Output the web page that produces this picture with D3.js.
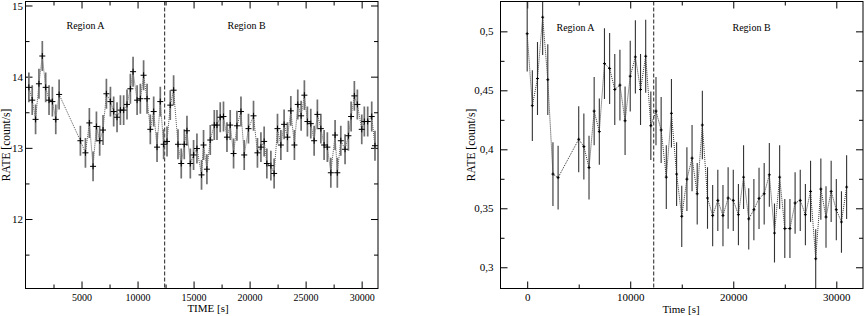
<!DOCTYPE html>
<html><head><meta charset="utf-8">
<script src="https://cdn.jsdelivr.net/npm/d3@7"></script>
<style>
html,body{margin:0;padding:0;background:#fff;}
svg{display:block;}
text{font-family:"Liberation Serif","DejaVu Serif",serif;fill:#000;}
</style></head>
<body>
<svg id="chart" width="864" height="316"></svg>
<script>
// ---------- DATA ----------
// Left panel: light curve (300 s bins)
const leftTime = [
  300,600,900,1200,1500,1800,2100,2400,2700,3000,
  4900,5350,5700,6030,6330,6620,6920,7220,7580,7870,
  8170,8470,8760,9060,9360,9600,9960,10250,10540,10850,
  11140,11440,11740,12030,12330,12630,12920,13220,13610,13900,
  14170,14410,14710,15000,15300,15710,15890,16190,16490,16850,
  17090,17380,17670,17980,18270,18570,18870,19230,19520,19900,
  20350,20700,21010,21300,21540,21900,22190,22490,22790,23080,
  23380,23680,24000,24300,24600,24890,25160,25460,25760,26050,
  26360,26650,26940,27250,27630,27830,28140,28520,28820,29060,
  29350,29620,30010,30240,30540,30900,31190
];
const leftRate = [
  13.85,13.67,13.40,13.90,14.29,13.85,13.67,13.65,13.40,13.75,
  13.10,12.93,13.35,12.74,13.30,13.10,13.25,13.76,13.65,13.51,
  13.43,13.53,13.53,13.61,13.83,14.07,13.67,13.69,14.02,13.69,
  13.26,13.51,13.01,13.65,13.05,13.09,13.60,13.81,13.05,12.78,
  13.05,13.24,12.78,12.90,12.99,12.62,13.04,12.70,13.11,13.32,
  13.32,13.43,13.44,13.15,13.32,12.92,13.31,13.51,12.90,13.27,
  13.45,12.93,13.01,13.09,12.78,12.75,12.64,13.27,13.04,13.33,
  13.15,13.52,13.04,13.61,13.45,13.74,13.37,13.34,13.10,13.47,
  13.27,13.04,13.01,12.65,13.18,12.65,13.10,12.98,13.17,13.44,
  13.73,13.61,13.26,13.37,13.37,13.44,13.03
];
const leftErrHalf = 0.21;
const leftDivider = 12420;
const leftXTicks = [5000,10000,15000,20000,25000,30000];
const leftXMinor = [2500,7500,12500,17500,22500,27500];
const leftYTicks = [12,13,14,15];
const leftYMinor = [11.5,12.5,13.5,14.5];

// Right panel: light curve (500 s bins)
const rightTime = [
  0,500,1000,1500,2000,2500,3000,
  5000,5500,6000,6500,7000,7500,8000,8500,9000,9500,
  10000,10500,11000,11500,12000,12500,13000,13500,14000,14500,
  15000,15500,16000,16500,17000,17500,18000,18500,19000,19500,
  20000,20500,21000,21500,22000,22500,23000,23500,24000,24500,
  25000,25500,26000,26500,27000,27500,28000,28500,29000,29500,
  30000,30500,31000
];
const rightRate = [
  0.498,0.437,0.460,0.512,0.459,0.379,0.376,
  0.4085,0.4023,0.3845,0.4324,0.415,0.4727,0.4685,0.4507,0.4544,0.4242,
  0.462,0.4783,0.4507,0.4789,0.420,0.4324,0.4164,0.3764,0.4305,0.379,
  0.3432,0.3747,0.3925,0.3623,0.4206,0.3587,0.3438,0.3567,0.3438,0.3587,
  0.3567,0.3446,0.3764,0.341,0.3488,0.3584,0.3623,0.3784,0.329,0.3764,
  0.3328,0.3328,0.3545,0.3567,0.3446,0.3643,0.3072,0.3663,0.3426,0.3643,
  0.3488,0.3384,0.368
];
const rightErr = [
  0.032,0.030,0.031,0.032,0.030,0.027,0.027,
  0.028,0.028,0.027,0.029,0.028,0.030,0.030,0.030,0.030,0.029,
  0.030,0.031,0.030,0.031,0.029,0.029,0.028,0.027,0.029,0.027,
  0.026,0.027,0.028,0.026,0.029,0.026,0.026,0.026,0.026,0.026,
  0.026,0.026,0.027,0.026,0.026,0.026,0.026,0.027,0.025,0.027,
  0.025,0.025,0.026,0.026,0.026,0.026,0.025,0.026,0.026,0.026,
  0.026,0.026,0.027
];
const rightDivider = 12280;
const rightXTicks = [0,10000,20000,30000];
const rightXMinor = [5000,15000,25000];
const rightYTicks = [0.3,0.35,0.4,0.45,0.5];
const rightYMinor = [0.325,0.375,0.425,0.475];

// ---------- DRAW ----------
const svg = d3.select("#chart");
const commaFmt = d3.formatLocale({decimal:",",thousands:".",grouping:[3],currency:["",""]}).format(".2~f");

function drawPanel(o){
  const g = svg.append("g");
  const x = o.x, y = o.y;
  const [x0,x1] = x.range(), [y1,y0] = y.range();
  const clipId = "clip"+o.id;
  svg.append("clipPath").attr("id",clipId).append("rect")
    .attr("x",x0).attr("y",y0).attr("width",x1-x0).attr("height",y1-y0);

  function ax(gen, tr, vals, size, pad, fmt, fs){
    const a = gen.tickValues(vals).tickSizeInner(-size).tickSizeOuter(0).tickPadding(pad);
    a.tickFormat(fmt || (()=>""));
    const s = g.append("g").attr("transform",tr).call(a);
    s.select(".domain").remove();
    s.selectAll(".tick line").attr("stroke","#000").attr("stroke-width",1);
    s.selectAll("text").attr("font-size",fs||11).attr("font-family",'"Liberation Serif","DejaVu Serif",serif').attr("fill","#000");
    return s;
  }
  ax(d3.axisBottom(x),`translate(0,${y1})`,o.xTicks,7,o.xPad,o.xFmt,o.xFs);
  ax(d3.axisBottom(x),`translate(0,${y1})`,o.xMinor,4,3,null);
  ax(d3.axisTop(x),`translate(0,${y0})`,o.xTicks,7,3,null);
  ax(d3.axisTop(x),`translate(0,${y0})`,o.xMinor,4,3,null);
  ax(d3.axisLeft(y),`translate(${x0},0)`,o.yTicks,7,o.yPad,o.yFmt,11);
  ax(d3.axisLeft(y),`translate(${x0},0)`,o.yMinor,4,3,null);
  ax(d3.axisRight(y),`translate(${x1},0)`,o.yTicks,7,3,null);
  ax(d3.axisRight(y),`translate(${x1},0)`,o.yMinor,4,3,null);

  const data = o.time.map((t,i)=>({t, v:o.rate[i], e:o.err(i)}));
  const plot = g.append("g").attr("clip-path",`url(#${clipId})`);

  // divider
  plot.append("line").attr("x1",x(o.divider)).attr("x2",x(o.divider))
    .attr("y1",y0).attr("y2",y1).attr("stroke","#222").attr("stroke-width",1)
    .attr("stroke-dasharray","4,2");

  // connecting dotted line
  plot.append("path").datum(data)
    .attr("d",d3.line().x(d=>x(d.t)).y(d=>y(d.v)))
    .attr("fill","none").attr("stroke",o.lineColor).attr("stroke-width",1)
    .attr("stroke-dasharray","1,1");

  // error bars
  plot.selectAll(".eb").data(data).join("line")
    .attr("x1",d=>x(d.t)).attr("x2",d=>x(d.t))
    .attr("y1",d=>y(d.v-d.e)).attr("y2",d=>y(d.v+d.e))
    .attr("stroke",o.ebColor).attr("stroke-width",o.ebWidth);

  // cross markers
  const m = o.mark;
  plot.selectAll(".mh").data(data).join("line")
    .attr("x1",d=>x(d.t)-m).attr("x2",d=>x(d.t)+m)
    .attr("y1",d=>y(d.v)).attr("y2",d=>y(d.v))
    .attr("stroke","#000").attr("stroke-width",1);
  plot.selectAll(".mv").data(data).join("line")
    .attr("x1",d=>x(d.t)).attr("x2",d=>x(d.t))
    .attr("y1",d=>y(d.v)-m).attr("y2",d=>y(d.v)+m)
    .attr("stroke","#000").attr("stroke-width",1);

  // frame
  g.append("rect").attr("x",x0).attr("y",y0).attr("width",x1-x0).attr("height",y1-y0)
    .attr("fill","none").attr("stroke","#000").attr("stroke-width",1);

  // region labels
  o.regions.forEach(r=>{
    g.append("text").attr("x",r.x).attr("y",r.y).attr("font-size",10).text(r.label);
  });
  // axis titles
  g.append("text").attr("x",o.xTitle.x).attr("y",o.xTitle.y).attr("text-anchor","middle")
    .attr("font-size",11).text(o.xTitle.text);
  g.append("text").attr("transform",`translate(${o.yTitle.x},${o.yTitle.y}) rotate(-90)`)
    .attr("text-anchor","middle").attr("font-size",11.5).text(o.yTitle.text);
}

drawPanel({
  id:"L",
  x: d3.scaleLinear().domain([0,31460]).range([25.5,378]),
  y: d3.scaleLinear().domain([11.024,15.056]).range([288.5,1.5]),
  xTicks:leftXTicks, xMinor:leftXMinor, yTicks:leftYTicks, yMinor:leftYMinor,
  xFmt:d3.format("d"), xFs:10, xPad:5,
  yFmt:d3.format("d"), yPad:2.5,
  time:leftTime, rate:leftRate, err:()=>leftErrHalf,
  divider:leftDivider,
  lineColor:"#555", ebColor:"#707070", ebWidth:1.7, mark:3,
  regions:[{x:66.5,y:29,label:"Region A"},{x:227.5,y:29,label:"Region B"}],
  xTitle:{x:208,y:312,text:"TIME [s]"},
  yTitle:{x:10,y:145,text:"RATE [count/s]"}
});

drawPanel({
  id:"R",
  x: d3.scaleLinear().domain([-2590,32590]).range([500.5,863]),
  y: d3.scaleLinear().domain([0.282,0.5253]).range([288.5,1.5]),
  xTicks:rightXTicks, xMinor:rightXMinor, yTicks:rightYTicks, yMinor:rightYMinor,
  xFmt:d3.format("d"), xFs:11, xPad:5,
  yFmt:commaFmt, yPad:7,
  time:rightTime, rate:rightRate, err:i=>rightErr[i],
  divider:rightDivider,
  lineColor:"#333", ebColor:"#333", ebWidth:1.1, mark:1.5,
  regions:[{x:556.5,y:31,label:"Region A"},{x:732.5,y:31,label:"Region B"}],
  xTitle:{x:681,y:313,text:"Time [s]"},
  yTitle:{x:475,y:145,text:"RATE [count/s]"}
});
</script>
</body></html>
